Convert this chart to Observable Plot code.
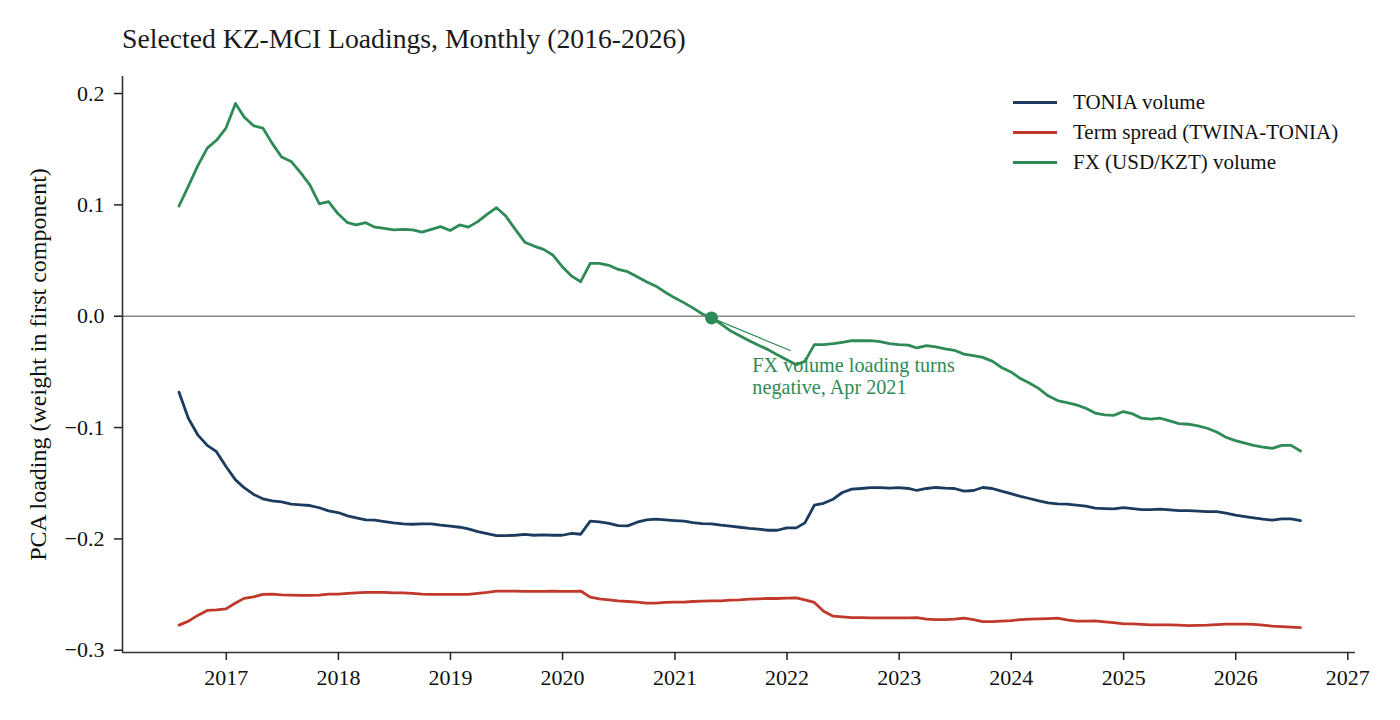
<!DOCTYPE html>
<html>
<head>
<meta charset="utf-8">
<script src="https://cdn.jsdelivr.net/npm/d3@7"></script>
<script src="https://cdn.jsdelivr.net/npm/@observablehq/plot@0.6"></script>
<style>
  body { margin: 0; background: #fff; font-family: "Liberation Serif", "Times New Roman", serif; }
  #wrap { position: relative; width: 1400px; height: 720px; overflow: hidden; }
  #title { height: 60px; box-sizing: border-box; padding-top: 25px; padding-left: 122px; font-size: 27.7px; line-height: 28px; color: #1a1a1a; white-space: nowrap; }
  #legend { position: absolute; left: 1013px; top: 87px; font-size: 21px; color: #111; }
  .row { display: flex; align-items: center; height: 30px; }
  .sw { width: 44px; height: 3px; margin-right: 16px; }
</style>
</head>
<body>
<div id="wrap">
  <div id="title">Selected KZ-MCI Loadings, Monthly (2016-2026)</div>
  <div id="chart"></div>
  <div id="legend"></div>
</div>
<script>
// ---- Data (month-end, Jul 2016 .. Jul 2026) ----
const startMonth = "2016-07";
const seriesNames = ["TONIA volume", "Term spread (TWINA-TONIA)", "FX (USD/KZT) volume"];
const seriesColors = ["#1b3b5f", "#c0392b", "#2e8b57"];

const tonia = [
  -0.0682,-0.092,-0.1065,-0.116,-0.1216,-0.135,-0.147,-0.154,-0.160,-0.164,
  -0.1658,-0.1667,-0.1688,-0.1694,-0.170,-0.172,-0.1748,-0.1763,-0.1793,-0.181,
  -0.1829,-0.1832,-0.1844,-0.1856,-0.1865,-0.1868,-0.1865,-0.1865,-0.1877,-0.1886,
  -0.1895,-0.191,-0.1934,-0.1952,-0.197,-0.197,-0.1967,-0.196,-0.1967,-0.1964,
  -0.1967,-0.1967,-0.195,-0.1958,-0.184,-0.1847,-0.186,-0.188,-0.1883,-0.185,
  -0.1829,-0.1823,-0.1829,-0.1835,-0.184,-0.1853,-0.1862,-0.1865,-0.1877,-0.1886,
  -0.1895,-0.1905,-0.1912,-0.1922,-0.1922,-0.190,-0.1901,-0.1856,-0.1697,-0.168,
  -0.1643,-0.1583,-0.1553,-0.1547,-0.154,-0.154,-0.1544,-0.154,-0.1547,-0.1565,
  -0.1547,-0.1538,-0.1544,-0.1547,-0.157,-0.1565,-0.1538,-0.1547,-0.157,-0.1593,
  -0.1618,-0.1637,-0.1658,-0.1676,-0.1685,-0.1688,-0.1697,-0.1706,-0.1724,-0.1727,
  -0.173,-0.1718,-0.1727,-0.1736,-0.1736,-0.1733,-0.1739,-0.1745,-0.1745,-0.175,
  -0.1754,-0.1754,-0.1769,-0.1787,-0.18,-0.1811,-0.1823,-0.1832,-0.182,-0.182,
  -0.1835
];

const termSpread = [
  -0.2774,-0.2738,-0.2687,-0.2642,-0.2637,-0.2628,-0.2576,-0.2534,-0.252,-0.2498,
  -0.2495,-0.2502,-0.2504,-0.2507,-0.2507,-0.2504,-0.2495,-0.2495,-0.2489,-0.2484,
  -0.248,-0.248,-0.248,-0.2484,-0.2484,-0.2489,-0.2495,-0.2498,-0.2498,-0.2498,
  -0.2498,-0.2498,-0.2489,-0.248,-0.2468,-0.2468,-0.2468,-0.2471,-0.2471,-0.2471,
  -0.2468,-0.2471,-0.2471,-0.2468,-0.2523,-0.2538,-0.2547,-0.2556,-0.2562,-0.2568,
  -0.2577,-0.2577,-0.257,-0.2568,-0.2568,-0.2562,-0.2559,-0.2556,-0.2556,-0.255,
  -0.2547,-0.2541,-0.2538,-0.2535,-0.2535,-0.2532,-0.2529,-0.2547,-0.257,-0.2649,
  -0.2694,-0.27,-0.2706,-0.2706,-0.2709,-0.2709,-0.2709,-0.2709,-0.2709,-0.2706,
  -0.2721,-0.2724,-0.2724,-0.2721,-0.2712,-0.2724,-0.2742,-0.2742,-0.2738,-0.2733,
  -0.2725,-0.272,-0.2718,-0.2715,-0.2712,-0.2727,-0.2739,-0.2738,-0.2736,-0.2745,
  -0.2752,-0.2763,-0.2763,-0.2768,-0.2772,-0.2772,-0.2772,-0.2774,-0.2778,-0.2776,
  -0.2775,-0.277,-0.2766,-0.2766,-0.2766,-0.2768,-0.2774,-0.2784,-0.2788,-0.2792,
  -0.2796
];

const fxVolume = [
  0.099,0.117,0.135,0.151,0.158,0.169,0.191,0.179,0.171,0.169,
  0.155,0.143,0.139,0.129,0.118,0.101,0.103,0.092,0.084,0.082,
  0.084,0.080,0.079,0.0775,0.078,0.0775,0.0755,0.078,0.0805,0.077,
  0.082,0.080,0.085,0.0915,0.0975,0.090,0.078,0.0665,0.063,0.060,
  0.055,0.0445,0.036,0.031,0.0475,0.0475,0.0457,0.042,0.040,0.0354,
  0.031,0.027,0.0216,0.0165,0.012,0.0075,0.002,-0.0015,-0.007,-0.013,
  -0.0175,-0.022,-0.026,-0.030,-0.0345,-0.039,-0.0435,-0.0405,-0.0255,-0.0255,
  -0.0246,-0.0234,-0.022,-0.022,-0.022,-0.0228,-0.0246,-0.0255,-0.026,-0.0285,
  -0.0264,-0.0276,-0.0294,-0.0306,-0.034,-0.0354,-0.037,-0.0403,-0.046,-0.050,
  -0.056,-0.060,-0.065,-0.0715,-0.0757,-0.0775,-0.0796,-0.0826,-0.087,-0.0885,
  -0.089,-0.0856,-0.0877,-0.0916,-0.0925,-0.0916,-0.094,-0.0964,-0.097,-0.0985,
  -0.1006,-0.104,-0.1087,-0.1117,-0.114,-0.116,-0.1175,-0.1186,-0.116,-0.116,
  -0.121
];

const yTicks = [0.2, 0.1, 0.0, -0.1, -0.2, -0.3];
const xTickYears = [2017, 2018, 2019, 2020, 2021, 2022, 2023, 2024, 2025, 2026, 2027];

const yLabel = "PCA loading (weight in first component)";
const noteText = "FX volume loading turns\nnegative, Apr 2021";
const noteLineEnd = { date: "2022-01-13", value: -0.031 };
const noteTextAt = { date: "2021-09-10", value: -0.036 };

// ---- Build table ----
const [sy, sm] = startMonth.split("-").map(Number);
const monthEnd = i => new Date(Date.UTC(sy, sm + i, 0)); // last day of month
const allSeries = [tonia, termSpread, fxVolume];
const rows = allSeries.map((vals, s) =>
  vals.map((v, i) => ({ date: monthEnd(i), value: v, series: seriesNames[s] }))
);

const firstNeg = fxVolume.findIndex(v => v < 0);
const dotRow = [{ date: monthEnd(firstNeg), value: fxVolume[firstNeg] }];
const linkRow = [{ x1: monthEnd(firstNeg), y1: fxVolume[firstNeg], x2: new Date(noteLineEnd.date), y2: noteLineEnd.value }];
const textRow = [{ date: new Date(noteTextAt.date), value: noteTextAt.value, text: noteText }];

const xDomain = [new Date("2016-01-29"), new Date("2027-01-26")];
const yDomain = [-0.302, 0.2153];
const serif = '"Liberation Serif", "Times New Roman", serif';

const chart = Plot.plot({
  width: 1400,
  height: 660,
  marginLeft: 122,
  marginRight: 45,
  marginTop: 16,
  marginBottom: 68,
  style: { fontFamily: serif, fontSize: "22px", color: "#111", background: "#fff", overflow: "visible" },
  x: { type: "utc", domain: xDomain },
  y: { domain: yDomain },
  marks: [
    Plot.ruleY([0], { stroke: "#888", strokeWidth: 1.5 }),
    ...rows.map((r, s) => Plot.line(r, {
      x: "date", y: "value", stroke: seriesColors[s], strokeWidth: 2.8, curve: "linear"
    })),
    Plot.link(linkRow, { x1: "x1", y1: "y1", x2: "x2", y2: "y2", stroke: seriesColors[2], strokeWidth: 1.2 }),
    Plot.dot(dotRow, { x: "date", y: "value", r: 6.5, fill: seriesColors[2], stroke: "none" }),
    Plot.text(textRow, {
      x: "date", y: "value", text: "text", textAnchor: "start", lineAnchor: "top",
      lineHeight: 1.08, fontSize: 20.2, fill: seriesColors[2], fontFamily: serif
    }),
    Plot.ruleX([xDomain[0]], { stroke: "#333", strokeWidth: 1.6 }),
    Plot.ruleY([yDomain[0]], { stroke: "#333", strokeWidth: 1.6 }),
    Plot.axisX({
      ticks: xTickYears.map(y => new Date(Date.UTC(y, 0, 1))),
      tickFormat: d3.utcFormat("%Y"),
      tickSize: 8, tickPadding: 9, stroke: "#222", strokeWidth: 1.5,
      fontSize: 22, fill: "#111", label: null
    }),
    Plot.axisY({
      ticks: yTicks,
      tickFormat: d3.format(".1f"),
      tickSize: 8, tickPadding: 10, stroke: "#222", strokeWidth: 1.5,
      fontSize: 22, fill: "#111", label: null
    }),
    Plot.text([yLabel], {
      frameAnchor: "left", text: d => d, rotate: -90, dx: -84,
      textAnchor: "middle", lineAnchor: "middle", fontSize: 24, fill: "#111", fontFamily: serif
    })
  ]
});
document.getElementById("chart").appendChild(chart);

// ---- Legend ----
const legend = document.getElementById("legend");
seriesNames.forEach((name, s) => {
  const row = document.createElement("div");
  row.className = "row";
  const sw = document.createElement("span");
  sw.className = "sw";
  sw.style.background = seriesColors[s];
  const lab = document.createElement("span");
  lab.textContent = name;
  row.appendChild(sw);
  row.appendChild(lab);
  legend.appendChild(row);
});
</script>
</body>
</html>
